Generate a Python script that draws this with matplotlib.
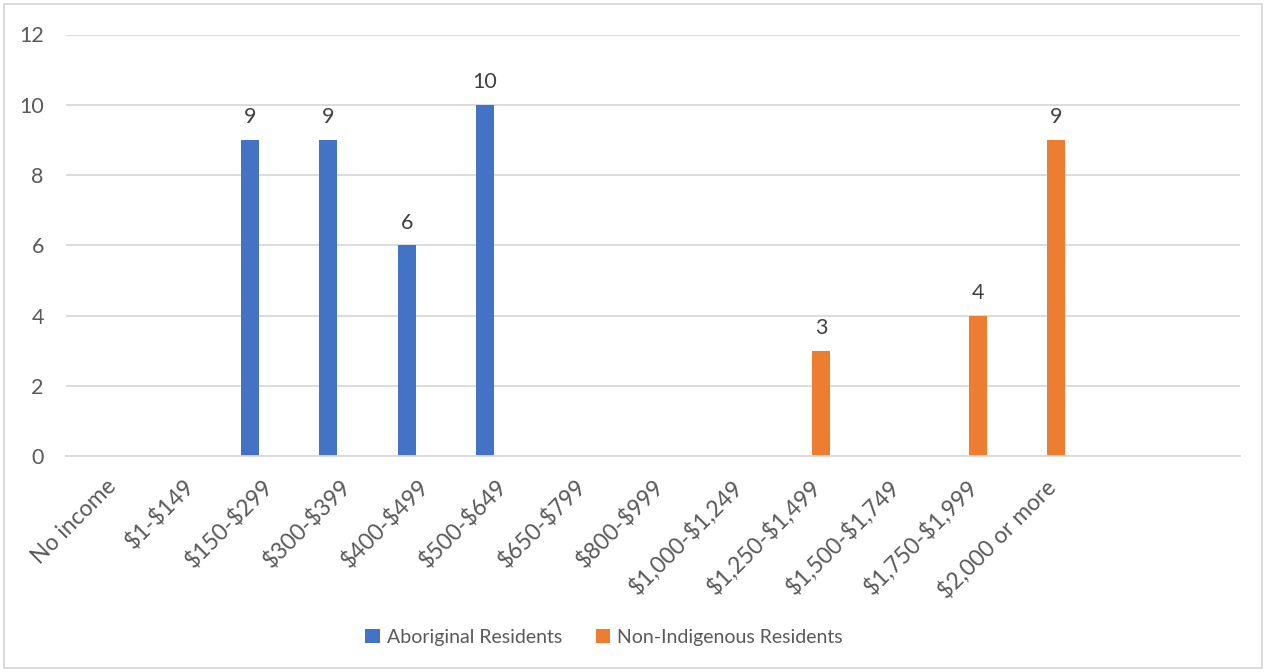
import matplotlib.pyplot as plt
from matplotlib.patches import Rectangle
import numpy as np

plt.rcParams['font.family'] = ['Lato', 'DejaVu Sans']
plt.rcParams['text.parse_math'] = False

income_bands = ["No income", "$1-$149", "$150-$299", "$300-$399", "$400-$499",
                "$500-$649", "$650-$799", "$800-$999", "$1,000-$1,249",
                "$1,250-$1,499", "$1,500-$1,749", "$1,750-$1,999",
                "$2,000 or more", "", ""]
aboriginal = [0, 0, 9, 9, 6, 10, 0, 0, 0, 0, 0, 0, 0, 0, 0]
non_indigenous = [0, 0, 0, 0, 0, 0, 0, 0, 0, 3, 0, 4, 9, 0, 0]

blue = "#4472C4"
orange = "#ED7D31"
txt = "#595959"
grid = "#D9D9D9"

fig = plt.figure(figsize=(12.66, 6.72), dpi=100)
ax = fig.add_axes([66 / 1266, 1 - 456 / 672, (1240 - 66) / 1266, (456 - 34.5) / 672])

x = np.arange(len(income_bands))
w = 0.23
off = 0.147
b1 = ax.bar(x - off, aboriginal, w, color=blue, label="Aboriginal Residents")
b2 = ax.bar(x + off, non_indigenous, w, color=orange, label="Non-Indigenous Residents")

# value labels only on non-zero bars
for bars, vals in ((b1, aboriginal), (b2, non_indigenous)):
    for r, v in zip(bars, vals):
        if v:
            ax.annotate(str(v), (r.get_x() + r.get_width() / 2, v),
                        xytext=(0, 12), textcoords="offset points",
                        ha="center", va="baseline", fontsize=15.5, color="#404040")

ax.set_xlim(-0.5, len(income_bands) - 0.5)
ax.set_ylim(0, 12)
ax.set_yticks(range(0, 13, 2))
ax.yaxis.grid(True, color=grid, linewidth=1.3)
ax.set_axisbelow(True)
for s in ("top", "right", "left"):
    ax.spines[s].set_visible(False)
ax.spines["bottom"].set_color(grid)
ax.spines["bottom"].set_linewidth(1.3)

ax.set_xticks(x)
ax.set_xticklabels(income_bands, rotation=45, ha="right", va="top",
                   rotation_mode="anchor", fontsize=16.5, color=txt)
ax.tick_params(axis="x", length=0, pad=14)
ax.tick_params(axis="y", length=0, pad=16, labelsize=15.5, labelcolor=txt)

fig.legend(handles=[b1, b2], loc="center", bbox_to_anchor=(604 / 1266, 1 - 637 / 672),
           ncol=2, frameon=False, fontsize=14, labelcolor=txt,
           handlelength=0.75, handleheight=0.75, handletextpad=0.35,
           columnspacing=1.75)

# light border round the whole chart
fig.patches.append(Rectangle((4 / 1266, 4 / 672), 1258 / 1266, 664 / 672,
                             transform=fig.transFigure, fill=False,
                             edgecolor=grid, linewidth=1.3))

fig.savefig("out.png", dpi=100)
